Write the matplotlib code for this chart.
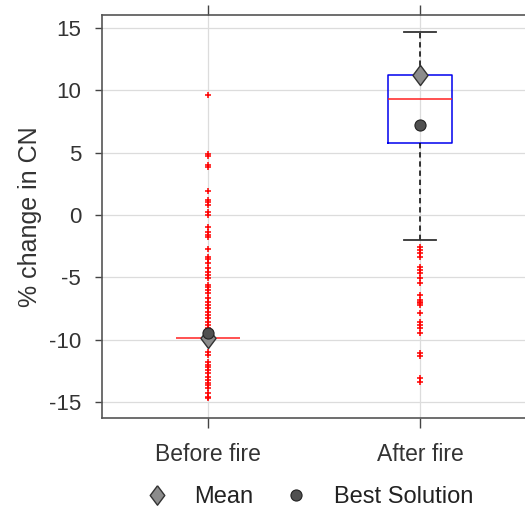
import matplotlib
matplotlib.use("Agg")
import matplotlib.pyplot as plt
from matplotlib.lines import Line2D

plt.rcParams['font.family'] = ['Liberation Sans', 'DejaVu Sans']

categories = ["Before fire", "After fire"]
medians = [-9.9, 9.3]
q1s = [-9.9, 5.8]
q3s = [-9.9, 11.2]
whislos = [-9.9, -2.0]
whishis = [-9.9, 14.7]
means = [-9.9, 11.2]
best = [-9.5, 7.2]
fliers_before = [9.62, 4.89, 4.73, 4.01, 3.88, 1.95, 1.20, 1.02, 0.80, 0.27, 0.0,
                 -0.94, -1.34, -1.60, -1.79, -2.75, -3.40, -3.56, -3.88, -4.28,
                 -4.54, -4.81, -5.08, -5.61, -5.75, -6.01, -6.28, -6.68, -6.95,
                 -7.22, -7.48, -7.75, -8.02, -8.28, -8.55, -8.82, -9.09, -9.3,
                 -10.96, -11.23, -11.76, -12.03, -12.16, -12.43, -12.70, -12.97,
                 -13.23, -13.50, -13.63, -13.90, -14.30, -14.57, -14.70]
fliers_after = [-2.54, -2.81, -3.07, -3.34, -4.15, -4.41, -4.68, -5.08, -5.48,
                -6.42, -6.82, -6.95, -7.08, -7.22, -7.89, -8.56, -8.82, -9.09,
                -9.49, -11.1, -11.3, -13.1, -13.4]
yticks = [-15, -10, -5, 0, 5, 10, 15]

fig = plt.figure(figsize=(5.25, 5.12), dpi=100)
ax = fig.add_axes([102/525, 1-418/512, 424/525, (418-15)/512])

stats = []
for i, lab in enumerate(categories):
    stats.append(dict(label=lab, med=medians[i], q1=q1s[i], q3=q3s[i],
                      whislo=whislos[i], whishi=whishis[i], mean=means[i],
                      fliers=[fliers_before, fliers_after][i]))

bp = ax.bxp(stats, positions=[1, 2], widths=0.30, showmeans=False,
            boxprops=dict(color='#0000ee', linewidth=1.1),
            medianprops=dict(color='#ff2020', linewidth=1.1, zorder=4),
            whiskerprops=dict(color='black', linestyle=(0, (3.5, 2.5)), linewidth=1.1),
            capprops=dict(color='#333333', linewidth=1.3),
            flierprops=dict(marker='+', markeredgecolor='#ff0000', markersize=5,
                            markeredgewidth=1.1, linestyle='none'),
            zorder=3)
# the collapsed "Before fire" box only shows its median line
bp['boxes'][0].set_visible(False)
for art in bp['whiskers'][0:2] + bp['caps'][0:2]:
    art.set_visible(False)

diamond = [(0, 1), (0.75, 0), (0, -1), (-0.75, 0), (0, 1)]
ax.plot([1, 2], means, linestyle='none', marker=diamond, markersize=14.5,
        markerfacecolor='#8c8c8c', markeredgecolor='#333333', markeredgewidth=1.0,
        zorder=5)
ax.plot([1, 2], best, linestyle='none', marker='o', markersize=8,
        markerfacecolor='#505050', markeredgecolor='#222222', markeredgewidth=0.8,
        zorder=6)

ax.set_xlim(0.5, 2.5)
ax.set_ylim(-16.28, 16.04)
ax.set_yticks(yticks)
ax.set_yticklabels([str(t) for t in yticks])
ax.set_xticks([1, 2])
ax.set_xticklabels(categories)
ax.grid(True, color='#dcdcdc', linewidth=0.9, zorder=0)
ax.set_axisbelow(True)

for s in ax.spines.values():
    s.set_color('#555555')
    s.set_linewidth(1.2)

ax.tick_params(axis='x', which='both', top=True, bottom=True, direction='out',
               length=7, width=1, color='#444444', labelsize=16.5, labelcolor='#333333', pad=11)
ax.tick_params(axis='y', direction='out', length=5, width=1, color='#444444',
               labelsize=16, labelcolor='#333333', pad=10)
ax.set_ylabel('% change in CN', fontsize=18, color='#333333', labelpad=5)

handles = [Line2D([], [], linestyle='none', marker=diamond, markersize=14,
                  markerfacecolor='#8c8c8c', markeredgecolor='#333333', markeredgewidth=1.0),
           Line2D([], [], linestyle='none', marker='o', markersize=8,
                  markerfacecolor='#505050', markeredgecolor='#222222', markeredgewidth=0.8)]
leg = fig.legend(handles, ['Mean', 'Best Solution'], loc='center',
                 bbox_to_anchor=(309/525, 1-497/512), ncol=2, frameon=False,
                 fontsize=17, handlelength=1.0, handletextpad=1.1, columnspacing=1.3)
for t in leg.get_texts():
    t.set_color('#222222')

fig.savefig('out.png', dpi=100)
